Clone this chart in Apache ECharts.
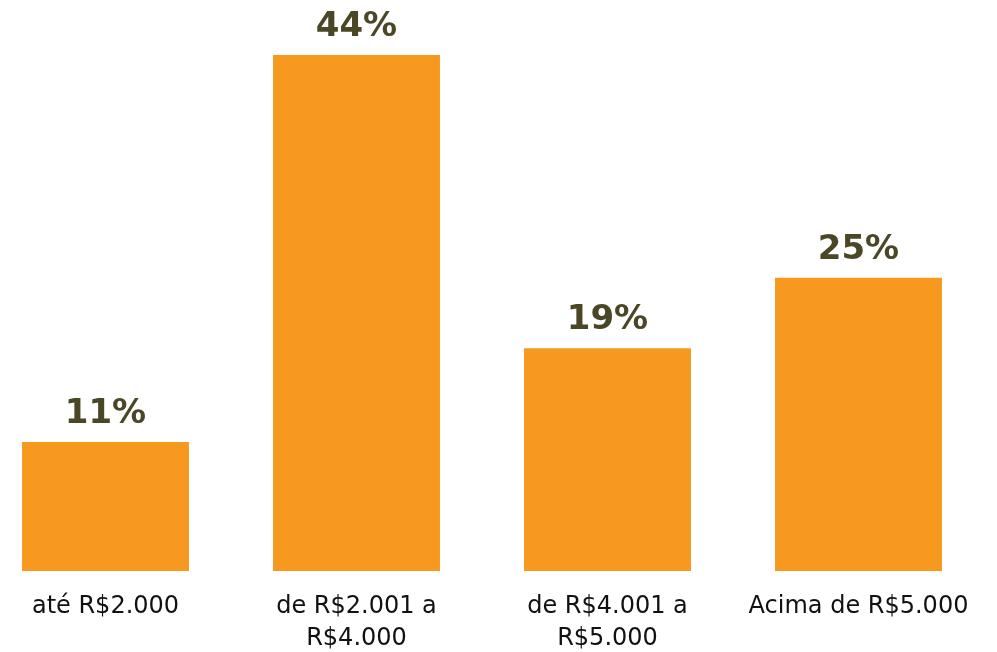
<!DOCTYPE html>
<html>
<head>
<meta charset="utf-8">
<script src="https://cdn.jsdelivr.net/npm/echarts@6/dist/echarts.min.js"></script>
<style>
  html, body { margin: 0; padding: 0; background: #fff; }
  #chart { width: 997px; height: 652px; }
</style>
</head>
<body>
<div id="chart"></div>
<script>
// faixas de renda e percentuais
const categories = ['até R$2.000', 'de R$2.001 a\nR$4.000', 'de R$4.001 a\nR$5.000', 'Acima de R$5.000']
const values = [11, 44, 19, 25]

const myChart = echarts.init(document.getElementById('chart'))
const option = {
  animation: false,
  grid: { left: -20, right: 13, top: 55, bottom: 81, outerBoundsMode: 'none', containLabel: false },
  xAxis: {
    type: 'category',
    data: categories,
    axisLine: { show: false },
    axisTick: { show: false },
    axisLabel: {
      interval: 0,
      margin: 20,
      color: '#111',
      fontSize: 24,
      lineHeight: 32,
      fontFamily: 'DejaVu Sans'
    }
  },
  yAxis: {
    type: 'value',
    min: 0,
    max: 44,
    show: false,
    splitLine: { show: false }
  },
  series: [
    {
      type: 'bar',
      data: values,
      barWidth: '66.5%',
      itemStyle: { color: '#F7981F' },
      label: {
        show: true,
        position: 'top',
        distance: 11,
        formatter: '{c}%',
        color: '#4B4626',
        fontSize: 34,
        fontWeight: 'bold',
        fontFamily: 'DejaVu Sans'
      }
    }
  ]
}
myChart.setOption(option)
</script>
</body>
</html>
